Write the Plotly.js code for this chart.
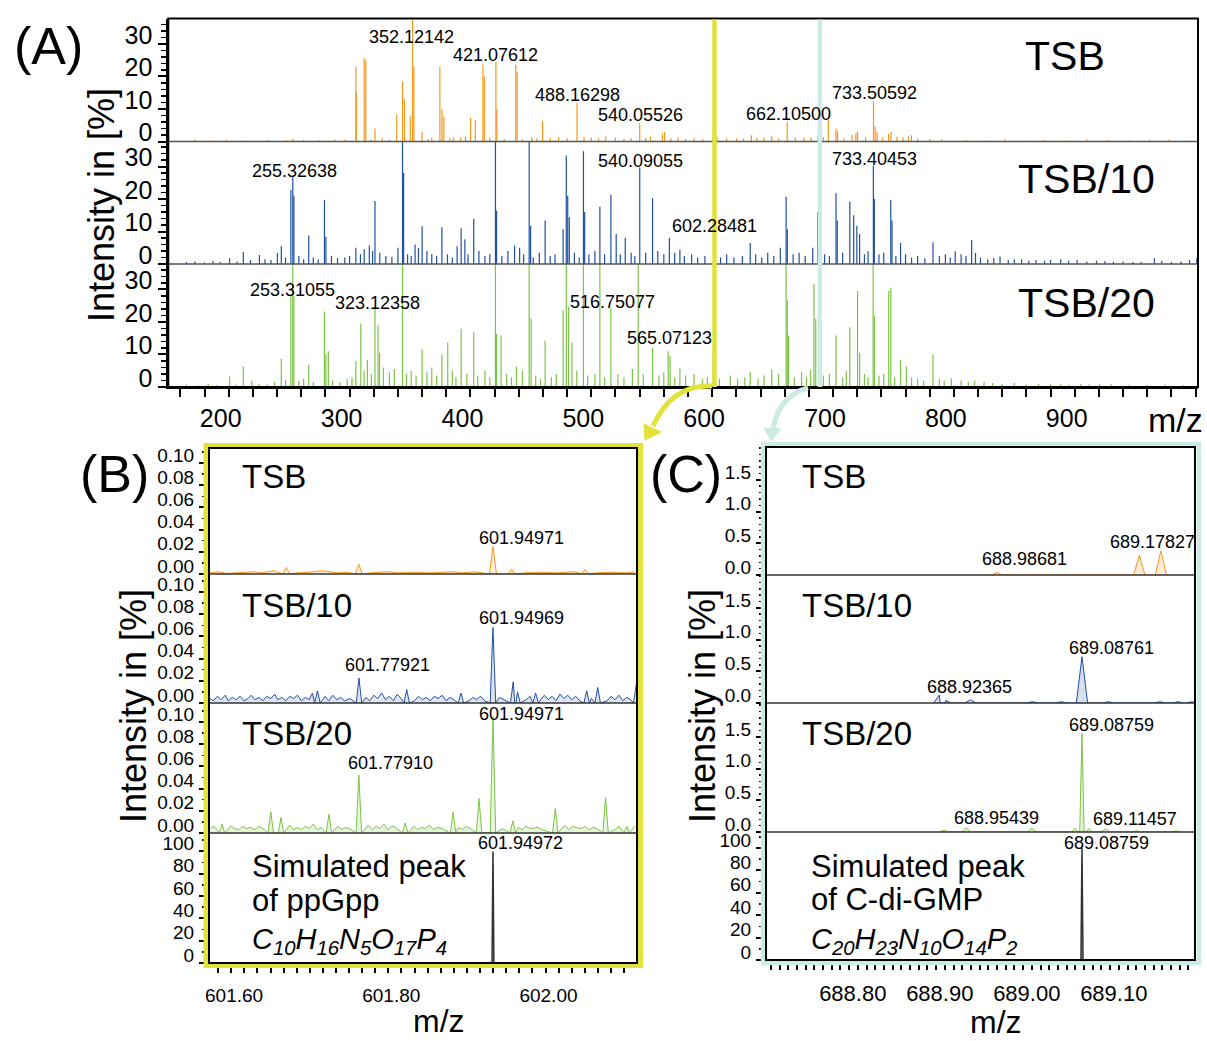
<!DOCTYPE html>
<html><head><meta charset="utf-8">
<script src="https://cdn.plot.ly/plotly-3.0.1.min.js"></script>
<style>html,body{margin:0;padding:0;background:#fff}#chart{width:1207px;height:1041px}</style>
</head><body><div id="chart"></div>
<script>
// ---------------- DATA ----------------
// Panel A: [m/z, intensity %] peaks
const A_TSB_peaks = [[305.2,22.9],[305.6,15],[312.1,25.6],[313.4,25],[321,4],[339,8.2],[343.8,18.4],[345.4,13],[350.2,8],[352.12,45],[353.2,23],[359.9,3],[374.7,23],[376.4,10],[378,7.7],[392,1.4],[400.1,7.2],[404,6.5],[410.3,23.7],[411.5,20],[421.08,24.5],[421.9,10],[437.5,23.5],[438.7,21.4],[450.8,1.4],[459.7,6.4],[473,1.4],[488.16,11.9],[540.06,5.6],[549,1.5],[558.8,2.4],[560.6,3],[571.7,1.2],[600.8,2.4],[604,1.5],[620.3,1],[632.5,1.9],[643,1.2],[649.3,1.6],[662.11,6],[668.8,1.4],[681.8,1.2],[687.4,2],[696.1,6.6],[702.5,4],[703.7,3],[715.7,2],[718.9,2.5],[720.3,3],[733.51,12.4],[734.9,4.5],[736.4,3],[746,2.4],[748,3],[753,1.5],[762.5,1.5],[764.9,1.9]];
const A_TSB_noise = [[172,0.5],[185,0.4],[198,0.6],[215,0.3],[232,0.5],[248,0.4],[253,0.9],[262,0.5],[275,0.4],[288,0.6],[296,0.5],[318,0.6],[327,1],[333,0.5],[365,0.8],[368,1.2],[383,1.0],[386,1.2],[396,1.5],[416,1.2],[428,0.8],[443,0.7],[455,1.0],[466,1.1],[480,1.0],[494,1.4],[500,1.2],[506,1.0],[512,1.5],[520,1.2],[527,0.8],[533,1.0],[545,1.1],[566,1.0],[578,0.8],[585,1.0],[592,0.7],[612,1.0],[626,0.9],[637,1.1],[655,1.0],[676,1.2],[692,1.4],[709,1.0],[727,1.3],[741,1.1],[758,1.2],[770,0.9],[780,0.8],[790,0.7],[810,0.5],[825,0.4],[842,0.6],[860,0.3],[875,0.5],[893,0.4],[910,0.6],[928,0.5],[945,0.4],[962,0.6],[978,0.5],[995,0.4]];

const A_TSB10_peaks = [[200.7,1.8],[212.1,3.7],[225.4,2.8],[240.3,3.4],[243.5,5.5],[251.4,22.8],[253,27],[253.9,21],[266.2,8.8],[279.2,19.7],[280.4,8.4],[305.2,5],[312.1,4.6],[316.3,5.7],[321,19.4],[340,5],[343.8,45],[344.7,28],[354.2,6],[360,11.6],[376.4,11.3],[389,5.5],[392.3,11],[395.4,7.6],[402.7,13.9],[420.7,45],[421.6,16.5],[436.5,5.7],[440.7,5],[448.6,45],[449.8,11.8],[461.8,13.4],[476.7,10.7],[479.3,33.4],[480.5,21],[481.8,14.4],[493.5,34.7],[494.5,16],[507.1,17.6],[516.2,21.3],[520.6,9.2],[528.1,8.1],[540.09,29.7],[550.7,20.2],[564.6,8.1],[573.3,4.4],[602.28,9.7],[631.5,6.5],[656.4,5],[661.2,20.7],[662.2,10.7],[683.2,5],[687.4,16],[688.6,10.7],[702.5,21.8],[703.5,13.4],[713.9,19.2],[717.1,15],[719.7,11.8],[722,9.2],[733.4,30.2],[734.2,20],[747.8,19.7],[748.8,13.4],[755.9,6.5],[782.7,6.7],[801.1,3.9],[814.7,7.4],[817.9,3.4],[838.2,2.3],[856,1.5],[888.4,1.5],[965.9,1.8],[1001,1.8]];
const A_TSB10_noise = [[165,0.6],[172,0.8],[180,0.5],[187,0.9],[193,0.6],[207,0.8],[218,1.2],[230,1.5],[235,1.2],[247,2],[258,2.5],[262,1.5],[270,2],[274,1.5],[285,2.5],[290,1.8],[296,2],[300,2.5],[309,3],[319,4],[325,3.5],[330,2.5],[335,2.2],[348,3],[351,2.5],[357,5],[364,4],[368,3],[372,2.5],[381,3],[385,2],[398,3],[407,4],[412,2.5],[416,3],[426,2.5],[431,4],[444,3],[452,2],[457,3.5],[466,2.5],[470,3],[486,3.5],[490,2],[498,3],[503,4],[511,3],[524,3],[533,3.5],[536,2.5],[545,3.5],[555,4],[560,3],[569,3.5],[577,2.5],[583,3],[588,2],[594,2.5],[607,2],[612,3],[618,2],[625,2.5],[636,3],[641,2],[646,3.5],[651,2.5],[667,3],[672,3.5],[677,2.5],[693,3],[697,2.5],[708,3.5],[726,3],[729,4],[738,3],[742,3.5],[752,2.5],[760,3],[765,2],[770,2.5],[776,1.8],[788,2.5],[793,3],[797,2],[806,3],[810,2.5],[822,2],[828,1.5],[833,1.8],[845,1.2],[850,1.5],[862,1],[868,1.2],[875,1],[880,1.3],[895,1.0],[902,1.2],[910,0.8],[918,1.0],[925,0.9],[932,0.7],[940,0.8],[948,0.6],[955,0.7],[972,0.9],[980,0.6],[988,0.8],[995,1.2]];

const A_TSB20_peaks = [[200.7,3.2],[212.1,6.3],[219.1,2],[243.5,8.6],[251.4,27.9],[253,45],[253.9,28],[266.2,6.8],[279.2,23.2],[280.4,10],[282.4,11],[305.2,7.9],[309.3,19.5],[314.7,8.4],[321,24.2],[323.5,19],[324.8,10.5],[343.8,45],[360,11.6],[376.4,10],[381.2,13.7],[392.3,17.9],[402.7,16.8],[420.7,45],[421.6,16.3],[425.4,15.8],[438.1,6.3],[448.6,45],[450.2,21],[461.8,14.2],[476.7,23.7],[479.3,45],[481.2,24.7],[484,13.7],[493.5,45],[507.1,45],[516.2,24.2],[538.8,45],[550.7,12.1],[563.6,11],[565.2,9.5],[573.3,5.8],[600.8,9.5],[631.5,4.7],[649.3,5.3],[661.2,45],[662.2,26.8],[663.2,15.8],[681.5,5.3],[684.2,31.6],[685.7,21],[688,16.8],[702.5,15.8],[713.9,18.4],[720.3,29.5],[722,10.5],[733.2,45],[734.2,22],[746.1,29.5],[747.8,30.5],[755.9,8.4],[760.7,6.3],[782.7,10],[797.9,2.6],[817.2,2],[888.4,1],[920.6,1]];
const A_TSB20_noise = [[165,0.8],[175,0.5],[183,0.9],[190,0.6],[206,0.7],[225,1],[232,0.8],[238,1.5],[247,2.2],[258,1.8],[262,2.5],[270,1.5],[286,2],[292,1.5],[298,2.5],[302,3],[312,5],[318,4],[328,6],[333,4.5],[337,5.5],[347,4],[351,5],[355,3.5],[364,4.5],[368,6],[372,3.5],[385,5],[388,3],[397,4],[406,3.5],[412,5],[416,3],[430,4],[434,3],[443,5],[454,3.5],[458,2.5],[467,3],[471,4],[488,5],[497,3.5],[503,4],[511,3],[522,4],[527,3],[534,5.5],[543,4],[556,3.5],[560,4.5],[569,3],[578,3.5],[585,4],[592,2.5],[596,3],[606,2.5],[615,3.5],[621,2.5],[627,3],[638,2.5],[643,3.5],[655,4],[668,3],[674,4.5],[678,3],[692,3.5],[697,4],[708,3],[711,5],[726,4],[729,3],[738,3.5],[742,4],[751,3],[765,3],[770,2.5],[775,2],[788,2.5],[792,2],[806,2],[812,1.5],[825,1.5],[832,1.2],[840,1],[850,1.2],[860,0.8],[870,1],[880,0.9],[895,0.7],[905,1],[912,0.8],[930,0.9],[945,0.7],[960,0.6],[975,0.8],[990,0.6]];

// Panel B (ppGpp region)
const B_TSB_peaks = [[601.6867,0.006],[601.779,0.0088],[601.94971,0.0248],[601.9734,0.0042],[602.0668,0.0042]];
const B_TSB_noise = [[601.590,0.001],[601.600,0.002],[601.610,0.0005],[601.620,0.001],[601.630,0.0015],[601.647,0.002],[601.655,0.001],[601.671,0.003],[601.700,0.001],[601.715,0.0015],[601.734,0.003],[601.750,0.001],[601.765,0.0015],[601.795,0.001],[601.816,0.002],[601.830,0.001],[601.850,0.0015],[601.870,0.001],[601.898,0.002],[601.910,0.001],[601.927,0.002],[601.990,0.001],[602.009,0.0015],[602.030,0.001],[602.054,0.002],[602.080,0.001],[602.100,0.0015],[602.120,0.001],[602.130,0.002]];
const B_TSB10_peaks = [[601.7264,0.011],[601.77921,0.0225],[601.840,0.012],[601.909,0.009],[601.94969,0.068],[601.9755,0.019],[601.981,0.010],[602.004,0.009],[602.069,0.011],[602.083,0.014],[602.132,0.016]];
const B_TSB10_noise = [[601.590,0.004],[601.594,0.002],[601.599,0.006],[601.604,0.003],[601.609,0.007],[601.613,0.002],[601.618,0.005],[601.623,0.003],[601.628,0.006],[601.633,0.002],[601.638,0.004],[601.642,0.007],[601.647,0.003],[601.652,0.005],[601.657,0.002],[601.662,0.006],[601.667,0.004],[601.672,0.008],[601.676,0.003],[601.681,0.005],[601.686,0.002],[601.691,0.006],[601.696,0.004],[601.701,0.007],[601.706,0.002],[601.711,0.005],[601.716,0.003],[601.720,0.009],[601.736,0.006],[601.741,0.002],[601.746,0.007],[601.751,0.003],[601.756,0.005],[601.761,0.002],[601.768,0.004],[601.788,0.005],[601.793,0.002],[601.798,0.007],[601.803,0.004],[601.808,0.009],[601.813,0.003],[601.818,0.006],[601.823,0.002],[601.828,0.008],[601.833,0.004],[601.850,0.002],[601.855,0.006],[601.860,0.003],[601.865,0.005],[601.870,0.002],[601.875,0.006],[601.880,0.004],[601.885,0.007],[601.890,0.002],[601.895,0.005],[601.900,0.003],[601.919,0.002],[601.924,0.005],[601.929,0.003],[601.934,0.006],[601.939,0.002],[601.958,0.005],[601.963,0.003],[601.992,0.003],[601.997,0.006],[602.015,0.007],[602.020,0.003],[602.025,0.006],[602.030,0.002],[602.035,0.008],[602.040,0.004],[602.045,0.007],[602.050,0.003],[602.055,0.006],[602.060,0.002],[602.075,0.004],[602.095,0.002],[602.100,0.006],[602.105,0.003],[602.110,0.007],[602.115,0.002],[602.120,0.005],[602.125,0.003]];
const B_TSB20_peaks = [[601.605,0.008],[601.667,0.019],[601.680,0.014],[601.741,0.017],[601.7791,0.052],[601.838,0.009],[601.899,0.019],[601.932,0.031],[601.94971,0.105],[601.975,0.011],[602.029,0.022],[602.093,0.032],[602.120,0.006]];
const B_TSB20_noise = [[601.590,0.004],[601.595,0.006],[601.611,0.002],[601.616,0.006],[601.621,0.004],[601.626,0.003],[601.631,0.006],[601.636,0.004],[601.641,0.005],[601.647,0.003],[601.652,0.006],[601.657,0.004],[601.691,0.007],[601.696,0.003],[601.701,0.005],[601.706,0.003],[601.711,0.006],[601.716,0.004],[601.721,0.008],[601.726,0.003],[601.731,0.005],[601.752,0.006],[601.757,0.003],[601.762,0.005],[601.767,0.004],[601.791,0.007],[601.796,0.003],[601.801,0.006],[601.806,0.004],[601.811,0.008],[601.816,0.003],[601.821,0.006],[601.826,0.005],[601.849,0.006],[601.854,0.003],[601.859,0.005],[601.864,0.004],[601.869,0.007],[601.874,0.003],[601.879,0.005],[601.885,0.004],[601.906,0.005],[601.911,0.003],[601.916,0.006],[601.921,0.004],[601.962,0.004],[601.982,0.005],[601.987,0.003],[601.992,0.006],[601.997,0.004],[602.007,0.005],[602.012,0.003],[602.041,0.007],[602.046,0.003],[602.051,0.006],[602.062,0.004],[602.067,0.006],[602.072,0.003],[602.077,0.005],[602.082,0.004],[602.105,0.003],[602.110,0.006],[602.130,0.006]];
const B_SIM_peaks = [[601.94972,100]];

// Panel C (c-di-GMP region)
const C_TSB_peaks = [[688.990,0.04],[689.1535,0.31],[689.17827,0.38]];
const C_TSB10_peaks = [[688.92365,0.126],[688.931,0.04],[688.9594,0.05],[689.031,0.02],[689.064,0.02],[689.08761,0.73],[689.118,0.02],[689.177,0.02],[689.198,0.02],[689.214,0.02]];
const C_TSB20_peaks = [[688.929,0.03],[688.95439,0.07],[689.030,0.06],[689.080,0.06],[689.08759,1.56],[689.095,0.05],[689.11457,0.05],[689.150,0.02],[689.196,0.02]];
const C_SIM_peaks = [[689.08759,100]];

// Tick labels and texts
const A_X_TICKS = [200,300,400,500,600,700,800,900];
const A_Y_TICKS = [0,10,20,30];
const B_X_TICKS = [601.60,601.80,602.00];
const B_Y_TICKS = [0,0.02,0.04,0.06,0.08,0.10];
const C_X_TICKS = [688.80,688.90,689.00,689.10];
const C_Y_TICKS = [0,0.5,1.0,1.5];
const SIM_Y_TICKS = [0,20,40,60,80,100];
const A_LABELS = ['352.12142','421.07612','488.16298','540.05526','662.10500','733.50592','255.32638','540.09055','733.40453','602.28481','253.31055','323.12358','516.75077','565.07123'];
const B_LABELS = ['601.94971','601.94969','601.77921','601.94971','601.77910','601.94972'];
const C_LABELS = ['688.98681','689.17827','689.08761','688.92365','689.08759','688.95439','689.11457','689.08759'];
const SAMPLES = ['TSB','TSB/10','TSB/20'];

// ---------------- LAYOUT HELPERS ----------------
const W=1207,H=1041;
const px=x=>x/W, py=y=>1-y/H;
const FONT='"Liberation Sans", Arial, Helvetica, sans-serif';
const ORANGE='#f7981d', BLUE='#1f50a2', GREEN='#7cc444', SIMC='#333333';
const YEL='#e2e23c', CYAN='#cdebe4';

function sticks(peaks, noise){
  const all = peaks.concat(noise).sort((a,b)=>a[0]-b[0]);
  const x=[],y=[];
  all.forEach(([m,h])=>{x.push(m,m,null);y.push(0,h,null);});
  return {x,y};
}
function profile(peaks, noise, w){
  const pts=[];
  (noise||[]).forEach(p=>{ if(!peaks.some(q=>Math.abs(q[0]-p[0])<w)) pts.push([p[0],p[1]]); });
  peaks.forEach(([m,h])=>{pts.push([m-w,0],[m,h],[m+w,0]);});
  pts.sort((a,b)=>a[0]-b[0]);
  return {x:pts.map(p=>p[0]), y:pts.map(p=>p[1])};
}

const traces=[];
function addStick(d, xa, ya, color){
  traces.push({type:'scatter',mode:'lines',x:d.x,y:d.y,xaxis:xa,yaxis:ya,line:{color,width:1.2},hoverinfo:'skip',showlegend:false});
}
function addProf(d, xa, ya, color, fill, lw){
  traces.push({type:'scatter',mode:'lines',x:d.x,y:d.y,xaxis:xa,yaxis:ya,line:{color,width:lw||1},fill:'tozeroy',fillcolor:fill,hoverinfo:'skip',showlegend:false});
}
addStick(sticks(A_TSB_peaks,A_TSB_noise),'x','y',ORANGE);
addStick(sticks(A_TSB10_peaks,A_TSB10_noise),'x','y2',BLUE);
addStick(sticks(A_TSB20_peaks,A_TSB20_noise),'x','y3',GREEN);
addProf(profile(B_TSB_peaks,B_TSB_noise,0.0045),'x2','y4',ORANGE,'rgba(247,152,29,0.18)');
addProf(profile(B_TSB10_peaks,B_TSB10_noise,0.0035),'x2','y5',BLUE,'rgba(31,80,162,0.15)');
addProf(profile(B_TSB20_peaks,B_TSB20_noise,0.0035),'x2','y6',GREEN,'rgba(124,196,68,0.18)');
addProf(profile(B_SIM_peaks,[],0.0012),'x2','y7',SIMC,'rgba(120,120,120,0.5)',1.5);
addProf(profile(C_TSB_peaks,[],0.0065),'x3','y8',ORANGE,'rgba(247,152,29,0.18)');
addProf(profile(C_TSB10_peaks,[],0.0065),'x3','y9',BLUE,'rgba(31,80,162,0.18)');
addProf(profile(C_TSB20_peaks,[],0.005),'x3','y10',GREEN,'rgba(124,196,68,0.2)');
addProf(profile(C_SIM_peaks,[],0.0012),'x3','y11',SIMC,'rgba(120,120,120,0.5)',1.5);

const tf = s=>({family:FONT,size:s,color:'#000'});
function yax(top,bot,range,tickvals,fmt,anchor,minor,size,shift){
  return {domain:[py(bot),py(top)],range,anchor,tickmode:'array',tickvals,ticktext:tickvals.map(fmt),
    showgrid:false,zeroline:false,showline:true,linecolor:'#000',linewidth:2,ticks:'outside',ticklen:8,tickwidth:2,tickcolor:'#000',
    minor:{tickmode:'linear',tick0:0,dtick:minor,ticks:'outside',ticklen:5,tickwidth:1.5,tickcolor:'#000'},
    tickfont:tf(size),ticklabelshift:shift,ticklabelstandoff:1,fixedrange:true};
}
function xax(l,r,range,tickvals,fmt,anchor,tick0,minor,size,shift,standoff){
  return {domain:[px(l),px(r)],range,anchor,tickmode:'array',tickvals,ticktext:tickvals.map(fmt),
    showgrid:false,zeroline:false,showline:true,linecolor:'#000',linewidth:2,ticks:'outside',ticklen:8,tickwidth:2,tickcolor:'#000',
    minor:{tickmode:'linear',tick0,dtick:minor,ticks:'outside',ticklen:8,tickwidth:2,tickcolor:'#000'},
    tickfont:tf(size),ticklabelshift:shift,ticklabelstandoff:standoff,fixedrange:true};
}
const f0=v=>String(v), f2=v=>v.toFixed(2), f1=v=>v.toFixed(1);

const layout={
  width:W,height:H,margin:{l:0,r:0,t:0,b:0},paper_bgcolor:'#fff',plot_bgcolor:'rgba(0,0,0,0)',showlegend:false,
  font:{family:FONT,color:'#000'},
  xaxis: xax(168.3,1198,[150,1002],A_X_TICKS,f0,'y3',0,20,25,-8,0),
  xaxis2: xax(209,637,[601.5884,602.133],B_X_TICKS,f2,'y7',601.6,0.2/12,19,16,6),
  xaxis3: xax(766,1195,[688.7244,689.2175],C_X_TICKS,f2,'y11',688.7,0.01,22,21,5),
  yaxis:  yax(18.5,141.5,[0,37.8],A_Y_TICKS,f0,'x',2,25,-9),
  yaxis2: yax(141.5,264,[0,37.7],A_Y_TICKS,f0,'x',2,25,-9),
  yaxis3: yax(264,387,[0,37.8],A_Y_TICKS,f0,'x',2,25,-9),
  yaxis4: yax(448,574,[0,126/1110],B_Y_TICKS,f2,'x2',0.01,19,-8),
  yaxis5: yax(574,703,[0,129/1110],B_Y_TICKS,f2,'x2',0.01,19,-8),
  yaxis6: yax(703,833,[0,130/1110],B_Y_TICKS,f2,'x2',0.01,19,-8),
  yaxis7: yax(833,963,[0,130/1.116],SIM_Y_TICKS,f0,'x2',10,19,-8),
  yaxis8: yax(447,575,[0,128/63.4],C_Y_TICKS,f1,'x3',0.1,19,-8),
  yaxis9: yax(575,703,[0,128/63.4],C_Y_TICKS,f1,'x3',0.1,19,-8),
  yaxis10: yax(703,832,[0,129/63.4],C_Y_TICKS,f1,'x3',0.1,19,-8),
  yaxis11: yax(832,960,[0,128/1.12],SIM_Y_TICKS,f0,'x3',10,19,-8),
  shapes:[],annotations:[]
};

const S=layout.shapes, A=layout.annotations;
function rect(l,t,r,b,color,w){S.push({type:'rect',xref:'paper',yref:'paper',x0:px(l),x1:px(r),y0:py(b),y1:py(t),line:{color,width:w},fillcolor:'rgba(0,0,0,0)',layer:'above'});}
function hline(l,r,y,color,w){S.push({type:'line',xref:'paper',yref:'paper',x0:px(l),x1:px(r),y0:py(y),y1:py(y),line:{color,width:w},layer:'above'});}
function pth(d,color,w,fill){S.push({type:'path',xref:'paper',yref:'paper',path:d,line:{color,width:w},fillcolor:fill||'rgba(0,0,0,0)',layer:'above'});}
const P=(x,y)=>px(x)+','+py(y);

// Panel A frame and dividers
hline(168.3,1198,141.5,'#555',1.5); hline(168.3,1198,264,'#555',1.5);
rect(168.3,18.5,1198,387,'#000',2);
// highlight lines in A
S.push({type:'line',xref:'x',yref:'paper',x0:601.95,x1:601.95,y0:py(387),y1:py(19.5),line:{color:YEL,width:4.5},layer:'above'});
S.push({type:'line',xref:'x',yref:'paper',x0:689.09,x1:689.09,y0:py(387),y1:py(19.5),line:{color:CYAN,width:4.5},layer:'above'});
// curved arrows
pth('M'+P(712,386)+' Q'+P(672,384)+' '+P(653,426),YEL,5);
pth('M'+P(645,440)+' L'+P(644,424)+' L'+P(661,432)+' Z',YEL,1,YEL);
pth('M'+P(808,388)+' Q'+P(780,395)+' '+P(773,428),CYAN,5);
pth('M'+P(771,441)+' L'+P(764,428)+' L'+P(781,429)+' Z',CYAN,1,CYAN);
// Panel B box
rect(206,445.5,640.5,965.5,YEL,5);
hline(209,637,574,'#333',1.5); hline(209,637,703,'#333',1.5); hline(209,637,833,'#333',1.5);
rect(209,448,637,963,'#000',2);
// Panel C box
rect(763,444,1199,963,CYAN,4.5);
hline(766,1195,575,'#333',1.5); hline(766,1195,703,'#333',1.5); hline(766,1195,832,'#333',1.5);
rect(766,447,1195,960,'#000',2);

function ann(text,x,y,size,o){A.push(Object.assign({text,xref:'paper',yref:'paper',x:px(x),y:py(y),showarrow:false,xanchor:'center',yanchor:'middle',font:{family:FONT,size,color:'#000'}},o||{}));}

// peak labels
const A_POS=[[411,37.5],[495.6,55],[577,95],[640,114.5],[788,114],[874.5,92.5],[294.7,170.5],[640,160.5],[874.5,159.5],[714.8,225.5],[292.4,289.5],[377,302.5],[612.5,301.5],[669.4,338.5]];
A_LABELS.forEach((t,i)=>ann(t,A_POS[i][0],A_POS[i][1],18));
const B_POS=[[521.7,537.5],[521.7,617.5],[387,665],[521.7,713.5],[390,762.5],[520.8,843]];
B_LABELS.forEach((t,i)=>ann(t,B_POS[i][0],B_POS[i][1],18));
const C_POS=[[1024,558.8],[1152,542],[1111.7,647.5],[969.4,686.7],[1111.7,724.5],[996.8,818.3],[1135.4,819],[1106.7,842.5]];
C_LABELS.forEach((t,i)=>ann(t,C_POS[i][0],C_POS[i][1],18));

// sample names
const A_SPOS=[[1065,56],[1086,179],[1086,303]];
SAMPLES.forEach((t,i)=>ann(t,A_SPOS[i][0],A_SPOS[i][1],41));
const BC_SY=[476,605,733];
SAMPLES.forEach((t,i)=>{ann(t,240,BC_SY[i],33,{xanchor:'left'});ann(t,800,BC_SY[i],33,{xanchor:'left'});});
ann('Simulated peak',250,866,31,{xanchor:'left'});
ann('of ppGpp',250,900,31,{xanchor:'left'});
ann('<i>C<sub>10</sub>H<sub>16</sub>N<sub>5</sub>O<sub>17</sub>P<sub>4</sub></i>',250,941,29,{xanchor:'left'});
ann('Simulated peak',809,866,31,{xanchor:'left'});
ann('of C-di-GMP',809,899,31,{xanchor:'left'});
ann('<i>C<sub>20</sub>H<sub>23</sub>N<sub>10</sub>O<sub>14</sub>P<sub>2</sub></i>',809,941,29,{xanchor:'left'});

// panel letters, axis titles
ann('(A)',48,46,52); ann('(B)',114,474,52); ann('(C)',686,474,52);
ann('Intensity in [%]',101,205,36,{textangle:-90});
ann('Intensity in [%]',133,706,36,{textangle:-90});
ann('Intensity in [%]',702,706,36,{textangle:-90});
ann('m/z',1175,420,34); ann('m/z',439,1021,32); ann('m/z',996,1022,32);

Plotly.newPlot('chart',traces,layout,{staticPlot:true,displayModeBar:false});
</script></body></html>
